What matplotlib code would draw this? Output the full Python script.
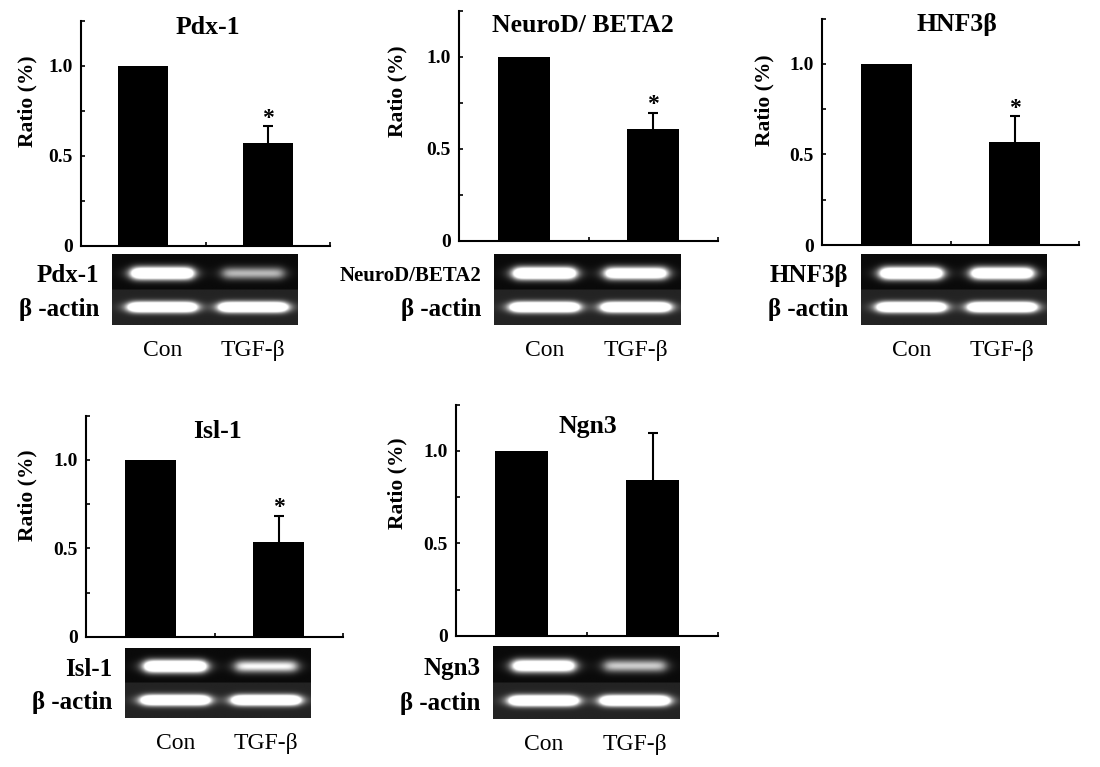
import numpy as np
import matplotlib
matplotlib.use("Agg")
import matplotlib.pyplot as plt
from matplotlib.transforms import Bbox, TransformedBbox, ScaledTranslation

plt.rcParams['font.family'] = ['Liberation Serif', 'DejaVu Serif']

# ---------------- data ----------------
genes = ["Pdx-1", "NeuroD/ BETA2", "HNF3β", "Isl-1", "Ngn3"]
gel_labels = ["Pdx-1", "NeuroD/BETA2", "HNF3β", "Isl-1", "Ngn3"]
groups = ["Con", "TGF-β"]
con_values = [1.0, 1.0, 1.0, 1.0, 1.0]
tgf_values = [0.572, 0.605, 0.571, 0.536, 0.843]
tgf_errors = [0.094, 0.091, 0.143, 0.149, 0.253]
significant = [True, True, True, True, False]
# relative band brightness on the gels (gene band, beta-actin band) for [Con, TGF-b]
gene_band = [[1.0, 0.36], [1.0, 0.85], [1.0, 0.92], [1.0, 0.5], [0.85, 0.4]]
actin_band = [[1.0, 1.0], [1.0, 1.0], [1.0, 1.0], [1.0, 1.0], [1.0, 1.0]]
y_ticks = [0, 0.25, 0.5, 0.75, 1.0, 1.25]
y_ticklabels = ["0", "", "0.5", "", "1.0", ""]

W, H = 1100, 767
fig = plt.figure(figsize=(W / 100, H / 100), dpi=100)


def box(l, t, r, b):
    return [l / W, 1 - b / H, (r - l) / W, (b - t) / H]


# layout in pixels: bar axes (left, top, right, bottom), gel (left, top, right, bottom)
bar_boxes = [(81, 21, 330, 245.6), (459, 10.7, 718, 240.7), (822, 18.7, 1079, 245),
             (86, 415.8, 343, 636.7), (456, 404.8, 718, 635.7)]
gel_boxes = [(112, 254, 298, 325), (494, 254, 681, 325), (861, 254, 1047, 325),
             (125, 648, 311, 718), (493, 646, 680, 719)]
title_pos = [(208, 33.5), (583, 31.5), (957, 31.5), (217, 438), (588, 433)]
ylabel_coords = [(-0.175, 0.645), (-0.2, 0.65), (-0.183, 0.64), (-0.19, 0.64), (-0.187, 0.66)]
lanes = [0.27, 0.76]
band_rows = [0.27, 0.75]


def gel_image(g, a, nx=320, ny=140):
    x = np.linspace(0, 1, nx)
    y = np.linspace(0, 1, ny)
    img = np.where(y < 0.5, 0.04, 0.14)[:, None] * np.ones((1, nx))
    for li, lane in enumerate(lanes):
        pg = 1 / (1 + ((x - lane) / 0.165) ** 10)
        pa = 1 / (1 + ((x - lane) / 0.18) ** 10)
        gy = np.exp(-((y - band_rows[0]) / 0.085) ** 2)
        ay = np.exp(-((y - band_rows[1]) / 0.07) ** 2)
        img += 1.9 * g[li] * np.outer(gy, pg) + 2.0 * a[li] * np.outer(ay, pa)
    return np.clip(img, 0, 1)


x = np.arange(len(groups))
for i in range(5):
    ax = fig.add_axes(box(*bar_boxes[i]))
    ax.bar(x, [con_values[i], tgf_values[i]], width=0.4, color="black")
    eb = ax.errorbar([x[1]], [tgf_values[i]], yerr=[[0], [tgf_errors[i]]], fmt="none",
                     ecolor="black", elinewidth=1.5, capsize=3.5, capthick=1.5)
    eb[1][0].set_visible(False)
    if significant[i]:
        ax.annotate("*", xy=(x[1], tgf_values[i] + tgf_errors[i]), xytext=(0, -2),
                    textcoords="offset points", ha="center", va="bottom",
                    fontsize=17, fontweight="bold")
    ax.set_xlim(-0.5, 1.5)
    ax.set_ylim(0, 1.25)
    for s in ["top", "right"]:
        ax.spines[s].set_visible(False)
    for s in ["left", "bottom"]:
        ax.spines[s].set_linewidth(1.5)
    ax.set_yticks(y_ticks)
    ax.set_yticklabels(y_ticklabels, fontsize=14, fontweight="bold")
    ax.set_xticks([0.5, 1.5])
    ax.set_xticklabels([])
    ax.tick_params(axis="both", direction="in", length=3, width=1.2, pad=6)
    ax.set_ylabel("Ratio (%)", fontsize=15.5, fontweight="bold")
    ax.yaxis.set_label_coords(*ylabel_coords[i])
    tx, ty = title_pos[i]
    t = fig.text(tx / W, 1 - ty / H, genes[i], ha="center", va="baseline",
                 fontsize=18.5, fontweight="bold")
    if i == 1:
        clip = TransformedBbox(Bbox([[0, 0], [1, 1 - 15 / H]]), fig.transFigure)
        t.set_clip_box(clip)
        t.set_clip_on(True)

    gx = fig.add_axes(box(*gel_boxes[i]))
    gx.imshow(gel_image(gene_band[i], actin_band[i]), cmap="gray", vmin=0, vmax=1,
              extent=(0, 1, 1, 0), aspect="auto", interpolation="bilinear")
    gx.set_xlim(0, 1)
    gx.set_ylim(1, 0)
    for s in gx.spines.values():
        s.set_visible(False)
    gx.set_xticks(lanes)
    gx.set_xticklabels(groups, fontsize=17)
    gx.set_yticks(band_rows)
    labs = gx.set_yticklabels([gel_labels[i], "β -actin"], fontsize=18, fontweight="bold")
    if i == 1:
        labs[0].set_fontsize(15)
        labs[0].set_transform(labs[0].get_transform() +
                              ScaledTranslation(10 / 100, 0, fig.dpi_scale_trans))
        labs[1].set_transform(labs[1].get_transform() +
                              ScaledTranslation(-4 / 100, 0, fig.dpi_scale_trans))
    gx.tick_params(axis="x", length=0, pad=11)
    gx.tick_params(axis="y", length=0, pad=9)

fig.savefig("out.png", dpi=100, facecolor="white")
